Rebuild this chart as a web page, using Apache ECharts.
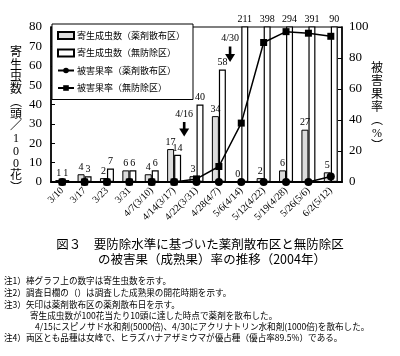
<!DOCTYPE html>
<html><head><meta charset="utf-8">
<script src="https://cdn.jsdelivr.net/npm/echarts@6/dist/echarts.min.js"></script>
<style>html,body{margin:0;padding:0;background:#fff}#c{width:400px;height:356px}</style>
</head><body><div id="c"></div>
<script>
const categories = ['3/10','3/17','3/23','3/31','4/7(3/10)','4/14(3/17)','4/22(3/31)','4/28(4/7)','5/6(4/14)','5/12(4/22)','5/19(4/28)','5/26(5/6)','6/2(5/12)'];
const adultsSprayed = [1,4,2,6,4,17,3,34,0,2,6,27,5];
const adultsUntreated = [1,3,7,6,6,14,40,58,211,398,294,391,90];
const damageSprayed = [0,0,0,0,0,0,0,0,0,0,0,0,3.5];
const damageUntreated = [0,0,0,0,0,0,2,10,38,90,97,96,94];
const leftTicks = {min:0,max:80,interval:10};
const rightTicks = {min:0,max:100,interval:20};
const arrows = [{label:'4/16', idx:5.45, top:31, tip:23.5, text:35}, {label:'4/30', idx:7.5, top:70, tip:62, text:74}];

const SERIF = "'Liberation Serif','Noto Sans CJK JP',serif";
const JP = "'Noto Sans CJK JP',sans-serif";
const chart = echarts.init(document.getElementById('c'), null, {renderer:'canvas'});
const names = ['寄生成虫数（薬剤散布区）','寄生成虫数（無防除区）','被害果率（薬剤散布区）','被害果率（無防除区）'];
const option = {
  animation:false,
  backgroundColor:'#fff',
  grid:{left:51,right:58,top:27,bottom:174,show:true,borderColor:'#000',borderWidth:1.2,backgroundColor:'transparent'},
  legend:{
    data:[{name:names[0],icon:'rect'},{name:names[1],icon:'rect'},{name:names[2]},{name:names[3]}],
    orient:'vertical',left:52,top:24,itemWidth:16,itemHeight:7,itemGap:8.5,
    padding:[7,8,7,5],backgroundColor:'#fff',borderColor:'#000',borderWidth:1,
    textStyle:{fontFamily:JP,fontSize:9,color:'#000',padding:[0,0,0,-2]},z:10
  },
  xAxis:{type:'category',data:categories,boundaryGap:true,
    axisLine:{lineStyle:{color:'#000',width:2}},
    axisTick:{inside:true,length:3,lineStyle:{color:'#000'}},
    axisLabel:{rotate:45,fontFamily:SERIF,fontSize:10,color:'#000',margin:7,interval:0}},
  yAxis:[
    {type:'value',min:leftTicks.min,max:leftTicks.max,interval:leftTicks.interval,
     axisLine:{show:true,lineStyle:{color:'#000',width:1.5}},axisTick:{show:true,inside:true,length:4,lineStyle:{color:'#000'}},
     splitLine:{show:false},axisLabel:{fontFamily:SERIF,fontSize:13,color:'#000',margin:9}},
    {type:'value',min:rightTicks.min,max:rightTicks.max,interval:rightTicks.interval,position:'right',
     axisLine:{show:true,lineStyle:{color:'#000',width:1.5}},axisTick:{show:true,inside:true,length:4,lineStyle:{color:'#000'}},
     splitLine:{show:false},axisLabel:{fontFamily:SERIF,fontSize:13,color:'#000',margin:7}}
  ],
  series:[
    {name:names[0],type:'bar',data:adultsSprayed,barWidth:7,barGap:'0%',
     itemStyle:{color:'#dcdcdc',borderColor:'#000',borderWidth:1},
     label:{show:true,position:'top',distance:2,fontFamily:SERIF,fontSize:10,color:'#000'}},
    {name:names[1],type:'bar',data:adultsUntreated,barWidth:7,barGap:'0%',clip:true,
     itemStyle:{color:'#fff',borderColor:'#000',borderWidth:1.2},
     label:{show:true,position:'top',distance:2,fontFamily:SERIF,fontSize:10,color:'#000'}},
    {name:names[3],type:'line',yAxisIndex:1,data:damageUntreated,symbol:'rect',symbolSize:7,
     lineStyle:{color:'#000',width:1.5},itemStyle:{color:'#000'},z:3},
    {name:names[2],type:'line',yAxisIndex:1,data:damageSprayed,symbol:'circle',symbolSize:8,
     lineStyle:{color:'#000',width:1.5},itemStyle:{color:'#000'},z:4}
  ]
};
chart.setOption(option);

function px(idx, val){
  const a = chart.convertToPixel({xAxisIndex:0}, Math.floor(idx));
  const b = chart.convertToPixel({xAxisIndex:0}, Math.floor(idx)+1);
  const x = a + (b-a)*(idx-Math.floor(idx));
  const y = chart.convertToPixel({yAxisIndex:0}, val);
  return [x,y];
}
const graphics = [];
arrows.forEach(ar=>{
  const t = px(ar.idx, ar.top), p = px(ar.idx, ar.tip), l = px(ar.idx, ar.text);
  const headH = 8, hw = 5, sw = 1.3;
  graphics.push({type:'polygon',z:20,shape:{points:[
    [t[0]-sw,t[1]],[t[0]+sw,t[1]],[t[0]+sw,p[1]-headH],[t[0]+hw,p[1]-headH],[p[0],p[1]],[t[0]-hw,p[1]-headH],[t[0]-sw,p[1]-headH]]},
    style:{fill:'#000'}});
  graphics.push({type:'text',z:20,x:l[0],y:l[1],style:{text:ar.label,fontFamily:SERIF,fontSize:10,fill:'#000',align:'center',verticalAlign:'middle'}});
});
const leftName = ['寄','生','虫','数','︵','頭','／','1','0','0','花','︶'];
const rightName = ['被','害','果','率','︵','%','︶'];
graphics.push({type:'text',x:16,y:47,style:{text:leftName.join('\n'),fontFamily:SERIF,fontSize:12,lineHeight:12.3,fill:'#000',align:'center',verticalAlign:'top'}});
graphics.push({type:'text',x:377,y:62,style:{text:rightName.join('\n'),fontFamily:SERIF,fontSize:12,lineHeight:13,fill:'#000',align:'center',verticalAlign:'top'}});
graphics.push({type:'text',x:200,y:244,style:{text:'図３　要防除水準に基づいた薬剤散布区と無防除区',fontFamily:JP,fontSize:12.5,fill:'#000',align:'center',verticalAlign:'middle'}});
graphics.push({type:'text',x:212,y:259,style:{text:'の被害果（成熟果）率の推移（2004年）',fontFamily:JP,fontSize:12.5,fill:'#000',align:'center',verticalAlign:'middle'}});
const notes = [
  [4,281,'注1）棒グラフ上の数字は寄生虫数を示す。'],
  [4,293,'注2）調査日欄の（）は調査した成熟果の開花時期を示す。'],
  [4,305,'注3）矢印は薬剤散布区の薬剤散布日を示す。'],
  [30,316,'寄生成虫数が100花当たり10頭に達した時点で薬剤を散布した。'],
  [35,327,'4/15にスピノサド水和剤(5000倍)、4/30にアクリナトリン水和剤(1000倍)を散布した。'],
  [4,338,'注4）両区とも品種は女峰で、ヒラズハナアザミウマが優占種（優占率89.5%）である。']
];
notes.forEach(n=>graphics.push({type:'text',x:n[0],y:n[1],style:{text:n[2],fontFamily:JP,fontSize:8.6,fill:'#000',align:'left',verticalAlign:'middle'}}));
chart.setOption({graphic:graphics});
</script></body></html>
